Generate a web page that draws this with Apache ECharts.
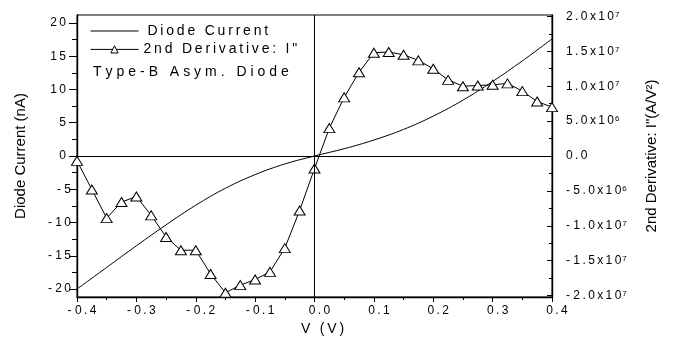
<!DOCTYPE html>
<html><head><meta charset="utf-8">
<script src="https://cdn.jsdelivr.net/npm/echarts@6/dist/echarts.min.js"></script>
<style>html,body{margin:0;padding:0;background:#fff}#c{width:675px;height:349px}</style>
</head><body><div id="c"></div>
<script>
// ---- data ----
const voltageCurrent = [-0.4, -0.35, -0.3, -0.25, -0.2, -0.15, -0.1, -0.05, 0, 0.05, 0.1, 0.15, 0.2, 0.25, 0.3, 0.35, 0.4];
const diodeCurrent   = [-20.0, -16.75, -13.5, -10.35, -7.4, -4.85, -2.8, -1.2, 0, 1.1, 2.4, 4.0, 6.0, 8.4, 11.2, 14.3, 17.6];
const voltageDeriv = [-0.4, -0.375, -0.35, -0.325, -0.3, -0.275, -0.25, -0.225, -0.2, -0.175, -0.15, -0.125, -0.1, -0.075, -0.05, -0.025, 0,
                      0.025, 0.05, 0.075, 0.1, 0.125, 0.15, 0.175, 0.2, 0.225, 0.25, 0.275, 0.3, 0.325, 0.35, 0.375, 0.4];
const secondDerivative = [-0.07e7, -0.48e7, -0.89e7, -0.66e7, -0.58e7, -0.85e7, -1.16e7, -1.35e7, -1.35e7, -1.69e7, -1.96e7, -1.85e7, -1.77e7, -1.66e7, -1.32e7, -0.78e7, -0.18e7,
                          0.40e7, 0.84e7, 1.20e7, 1.48e7, 1.49e7, 1.45e7, 1.37e7, 1.25e7, 1.09e7, 1.00e7, 1.01e7, 1.02e7, 1.04e7, 0.93e7, 0.78e7, 0.70e7];
const xTicks = [-0.4, -0.3, -0.2, -0.1, 0, 0.1, 0.2, 0.3, 0.4];
const leftTicks = [-20, -15, -10, -5, 0, 5, 10, 15, 20];
const leftMinorTicks = [-17.5, -12.5, -7.5, -2.5, 2.5, 7.5, 12.5, 17.5];
const rightTicks = [-2e7, -1.5e7, -1e7, -0.5e7, 0, 0.5e7, 1e7, 1.5e7, 2e7];
const rightMinorTicks = [-1.75e7, -1.25e7, -0.75e7, -0.25e7, 0.25e7, 0.75e7, 1.25e7, 1.75e7];
const seriesNames = ['Diode Current', '2nd Derivative: I"'];
const noteText = 'Type-B Asym. Diode';
const xName = 'V (V)';
const leftName = 'Diode Current (nA)';
const rightName = '2nd Derivative: I"(A/V\u00B2)';

// ---- helpers ----
const FONT = 'Liberation Sans, Arial, sans-serif';
const TS = '\u2009';
const HS = '\u200A';
function sp(s){ return s.split('').join(TS); }
function spWide(s){ return s.split('').join(TS + HS); }
function signed(s){ return s.charAt(0) === '-' ? '- ' + sp(s.slice(1)) : sp(s); }
function zip(a, b){ return a.map((v, i) => [v, b[i]]); }
const black = {color: '#000', width: 1};
const axisLineStyle = {color: '#000', width: 1.4};

const chart = echarts.init(document.getElementById('c'), null, {renderer: 'canvas'});
chart.setOption({
  animation: false,
  backgroundColor: '#fff',
  textStyle: {fontFamily: FONT, color: '#000'},
  grid: {left: 77, right: 123, top: 15, bottom: 52, show: true, borderColor: '#000', borderWidth: 1, containLabel: false, outerBoundsMode: 'none'},
  title: {text: spWide(noteText), left: 93, top: 65, padding: 0,
          textStyle: {fontFamily: FONT, fontSize: 14, fontWeight: 'normal', color: '#000'}},
  legend: {
    data: [
      {name: seriesNames[0], itemStyle: {opacity: 0}, lineStyle: {width: 1, color: '#000'}},
      {name: seriesNames[1], itemStyle: {color: '#fff', borderColor: '#000', borderWidth: 1}, lineStyle: {width: 1, color: '#000'}}
    ],
    orient: 'vertical', left: 90, top: 23, padding: 0,
    itemWidth: 48, itemHeight: 9, itemGap: 2.4,
    formatter: name => name === seriesNames[0] ? ' ' + sp(name) : sp(name),
    textStyle: {fontFamily: FONT, fontSize: 14, color: '#000', lineHeight: 16},
    selectedMode: false
  },
  xAxis: {
    type: 'value', min: -0.4, max: 0.4, interval: 0.1,
    axisLine: {show: true, onZero: false, lineStyle: axisLineStyle},
    axisTick: {show: true, length: 5, lineStyle: black},
    minorTick: {show: true, splitNumber: 2, length: 3, lineStyle: black},
    splitLine: {show: false}, minorSplitLine: {show: false},
    axisLabel: {formatter: v => signed(v.toFixed(1)), margin: 8, fontSize: 12, fontFamily: FONT, color: '#000', padding: [0, 0, 0, 10]},
    name: sp(xName), nameLocation: 'middle', nameGap: 24,
    nameTextStyle: {fontFamily: FONT, fontSize: 14, color: '#000', padding: [0, 0, 0, 16]}
  },
  yAxis: [
    {
      type: 'value', position: 'left', min: -21.2, max: 21.2,
      axisLine: {show: true, onZero: false, lineStyle: axisLineStyle},
      axisTick: {show: true, customValues: leftTicks, length: 8, lineStyle: black},
      axisLabel: {customValues: leftTicks, margin: 6, fontSize: 12, fontFamily: FONT, color: '#000',
                  formatter: v => v < 0 ? '{n|' + signed(String(v)) + '}' : '{p|' + sp(String(v)) + '}',
                  rich: {n: {fontSize: 12, fontFamily: FONT, color: '#000'}, p: {fontSize: 12, fontFamily: FONT, color: '#000', padding: [0, 5, 0, 0]}}},
      splitLine: {show: false},
      name: leftName, nameLocation: 'middle', nameGap: 49, nameRotate: 90,
      nameTextStyle: {fontFamily: FONT, fontSize: 15, color: '#000'}
    },
    {
      type: 'value', position: 'right', min: -2.02e7, max: 2.02e7,
      axisLine: {show: true, onZero: false, lineStyle: axisLineStyle},
      axisTick: {show: true, inside: true, customValues: rightTicks, length: 5, lineStyle: black},
      axisLabel: {customValues: rightTicks, margin: 14, fontSize: 12, fontFamily: FONT, color: '#000',
        formatter: function(v){
          if (Math.abs(v) < 1) return '{b|' + sp('0.0') + '}';
          const a = Math.abs(v);
          const e = Math.floor(Math.log10(a) + 1e-9);
          const m = (a / Math.pow(10, e)).toFixed(1);
          return '{b|' + (v < 0 ? '- ' : '') + sp(m + 'x10') + '}{s|' + e + '}';
        },
        rich: {b: {fontSize: 12, fontFamily: FONT, color: '#000'}, s: {fontSize: 8, fontFamily: FONT, color: '#000', verticalAlign: 'top', lineHeight: 8, padding: [0, 0, 0, 1]}}
      },
      splitLine: {show: false},
      name: rightName, nameLocation: 'middle', nameGap: 92, nameRotate: 90,
      nameTextStyle: {fontFamily: FONT, fontSize: 15, color: '#000'}
    },
    {
      type: 'value', position: 'left', min: -21.2, max: 21.2,
      axisLine: {show: false, onZero: false},
      axisTick: {show: true, customValues: leftMinorTicks, length: 5, lineStyle: black},
      axisLabel: {show: false}, splitLine: {show: false}
    },
    {
      type: 'value', position: 'right', min: -2.02e7, max: 2.02e7,
      axisLine: {show: false, onZero: false},
      axisTick: {show: true, inside: true, customValues: rightMinorTicks, length: 3, lineStyle: black},
      axisLabel: {show: false}, splitLine: {show: false}
    }
  ],
  series: [
    {
      name: seriesNames[0], type: 'line', yAxisIndex: 0, data: zip(voltageCurrent, diodeCurrent),
      smooth: 0.4, symbol: 'none', lineStyle: black, itemStyle: {color: '#000'}, z: 2,
      markLine: {silent: true, symbol: 'none', label: {show: false}, animation: false,
                 lineStyle: {color: '#000', width: 1, type: 'solid'}, emphasis: {disabled: true},
                 data: [{xAxis: 0}, {yAxis: 0}]}
    },
    {
      name: seriesNames[1], type: 'line', yAxisIndex: 1, data: zip(voltageDeriv, secondDerivative),
      symbol: 'triangle', symbolSize: [11, 9], showAllSymbol: true, clip: false,
      lineStyle: black, itemStyle: {color: '#fff', borderColor: '#000', borderWidth: 1}, z: 3
    }
  ]
});
</script></body></html>
